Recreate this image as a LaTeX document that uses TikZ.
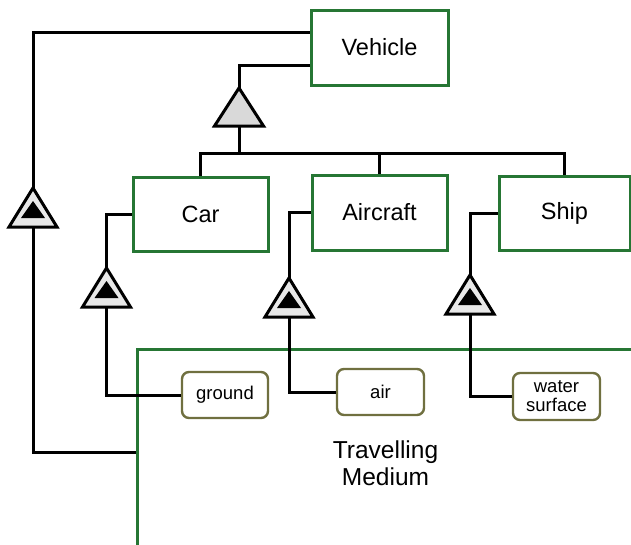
\documentclass[tikz,border=0pt]{standalone}
\usepackage{fontspec}
\setmainfont{Liberation Sans}
\definecolor{boxgreen}{RGB}{38,118,52}
\definecolor{olivebd}{RGB}{112,112,64}
\definecolor{trigray}{RGB}{217,217,217}
\definecolor{tri2gray}{RGB}{232,232,232}
\begin{document}
\begin{tikzpicture}[x=1pt,y=-1pt,
  cls/.style={draw=boxgreen, line width=3pt, fill=white, inner sep=0pt, font=\fontsize{23.5}{27}\selectfont},
  val/.style={draw=olivebd, line width=2.4pt, rounded corners=7pt, fill=white, inner sep=0pt, font=\fontsize{18.5}{19}\selectfont, align=center},
  conn/.style={line width=3pt, black},
  gtri/.style={draw=black, line width=3pt, fill=trigray, line join=miter},
  dtri/.style={draw=black, line width=3pt, fill=tri2gray, line join=miter},
  ]
\useasboundingbox (0,0) rectangle (631,544);

% Travelling medium box (extends beyond the picture)
\node[draw=boxgreen, line width=3pt, minimum width=500pt, minimum height=198pt, inner sep=0pt, anchor=north west] (tm) at (136,348) {};
\node[font=\fontsize{24.5}{27}\selectfont, align=center] (tmlabel) at (385.5,463) {Travelling\\Medium};

% class boxes
\node[cls, minimum width=137pt, minimum height=75pt] (veh) at (379.5,47.5) {Vehicle};
\node[cls, minimum width=135pt, minimum height=74pt] (car) at (200.5,214) {Car};
\node[cls, minimum width=135pt, minimum height=75pt] (airc) at (379.5,212.5) {Aircraft};
\node[cls, minimum width=131pt, minimum height=74pt] (ship) at (564.5,213.5) {Ship};

% value boxes
\node[val, minimum width=86pt, minimum height=46pt] (gnd) at (225,395) {ground};
\node[val, minimum width=87pt, minimum height=46pt] (airv) at (380.5,392) {air};
\node[val, minimum width=87pt, minimum height=47pt] (wat) at (556.5,396.5) {water\\surface};

% triangle apex / base coordinates
\coordinate (gA) at (239,88);   \coordinate (gB) at (239,126);
\coordinate (bar) at (239,153);
\coordinate (lA) at (33,188);   \coordinate (lB) at (33,227);
\coordinate (cA) at (106.5,268); \coordinate (cB) at (106.5,307);
\coordinate (aA) at (289,278);  \coordinate (aB) at (289,317);
\coordinate (sA) at (470,275);  \coordinate (sB) at (470,314);
\coordinate (tmIn) at (136,452);

% connectors
\draw[conn] ([yshift=15.5pt]veh.west) -| (lA);
\draw[conn] (lB) |- (tmIn);
\draw[conn] ([yshift=-17.5pt]veh.west) -| (gA);
\draw[conn] (gB) -- (bar);
\draw[conn] (car.north) |- (bar) -| (ship.north);
\draw[conn] (airc.north) -- (airc.north |- bar);
\draw[conn] (car.west) -| (cA);
\draw[conn] (cB) |- (gnd.west);
\draw[conn] (airc.west) -| (aA);
\draw[conn] (aB) |- (airv.west);
\draw[conn] (ship.west) -| (sA);
\draw[conn] (sB) |- (wat.west);

% generalization triangle
\draw[gtri] (gA) -- ++(24.5,38) -- ++(-49,0) -- cycle;

% double triangles
\foreach \t in {lA,cA,aA,sA}{
  \draw[dtri] (\t) -- ++(24,39) -- ++(-48,0) -- cycle;
  \fill[black] ([yshift=-13pt]\t) -- ++(12,17) -- ++(-24,0) -- cycle;
}
\end{tikzpicture}
\end{document}
